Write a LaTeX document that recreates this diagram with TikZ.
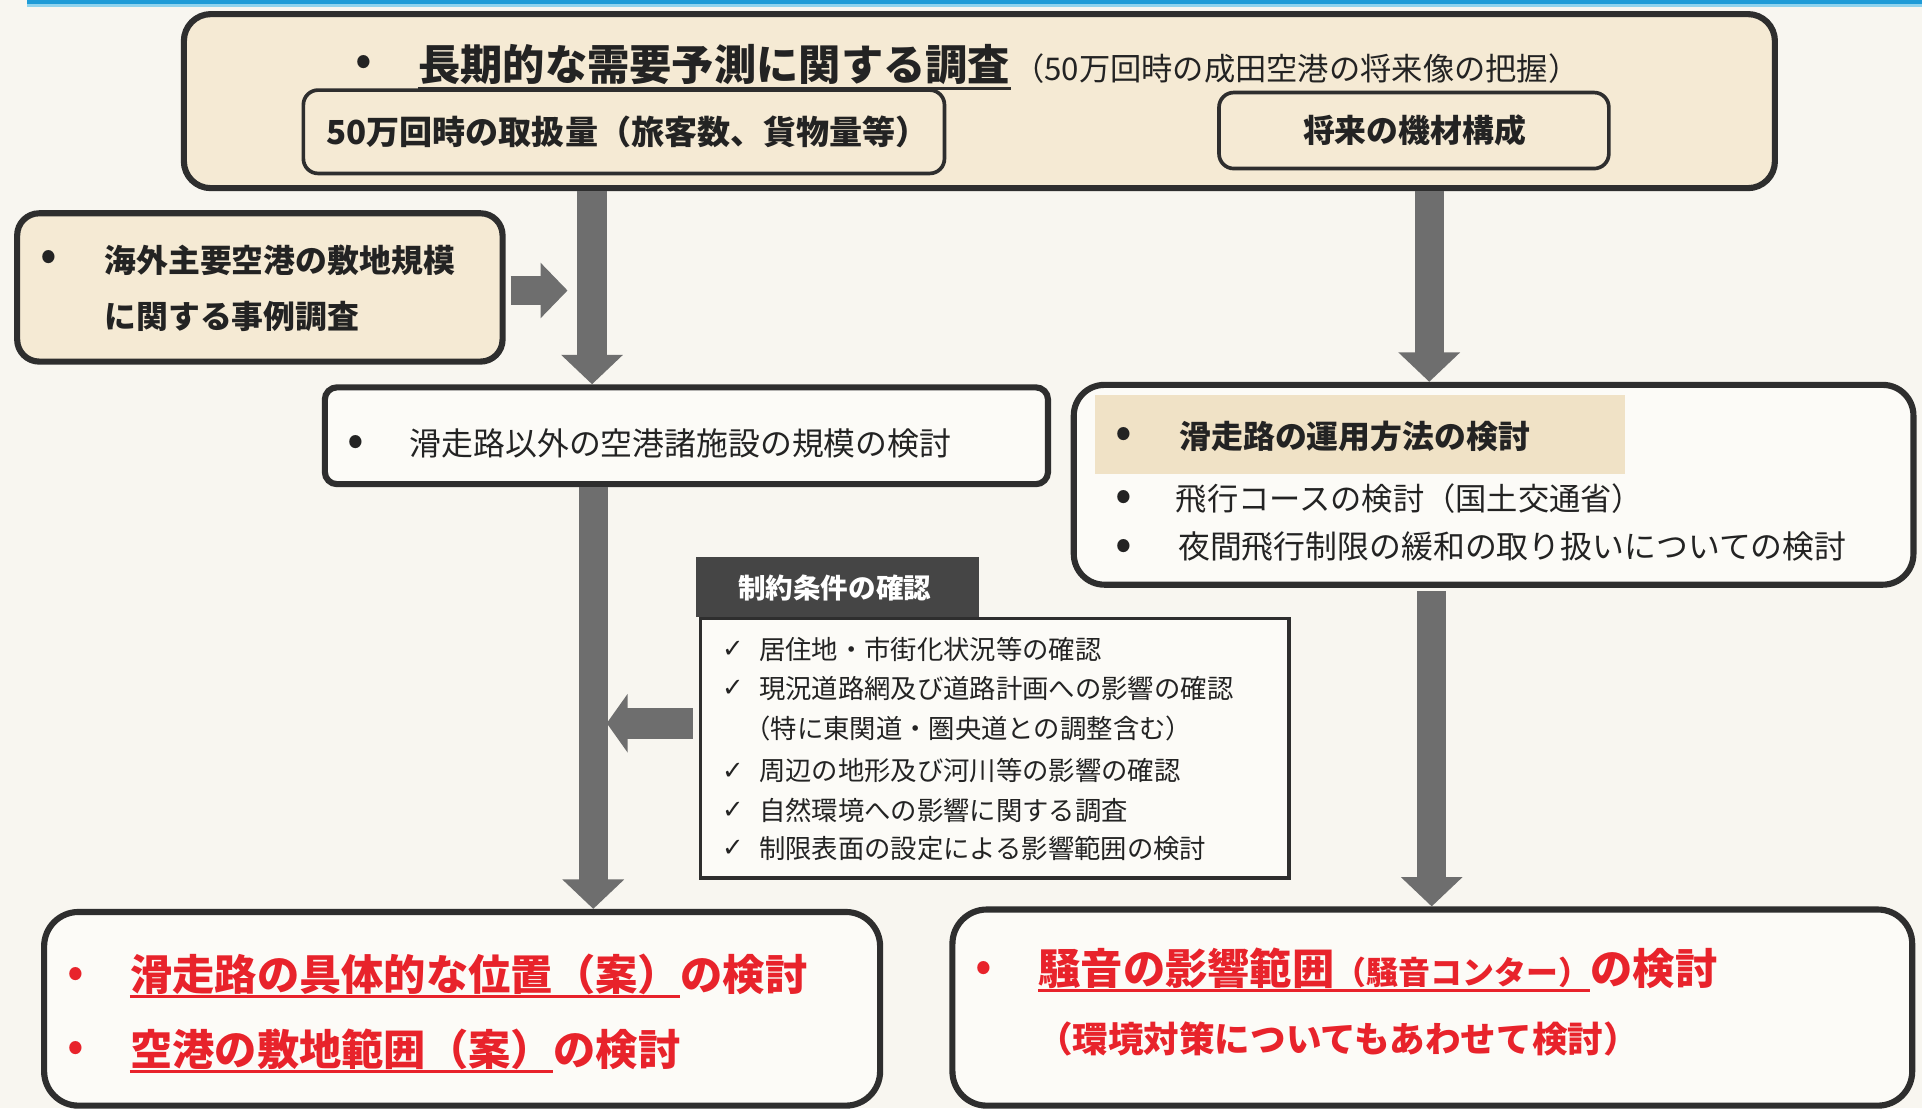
\documentclass[tikz,border=0pt]{standalone}
\usepackage{fontspec}
\setmainfont{Noto Sans CJK JP}
\newfontfamily\dejavu{DejaVu Sans}
\usetikzlibrary{arrows.meta}
\newcommand{\fsz}[1]{\fontsize{#1pt}{#1pt}\selectfont}
\definecolor{bg}{HTML}{F8F6F0}
\definecolor{cream}{HTML}{F5EAD4}
\definecolor{hl}{HTML}{F0E2C6}
\definecolor{edge}{HTML}{2E2E2E}
\definecolor{ink}{HTML}{232323}
\definecolor{arr}{HTML}{6E6E6E}
\definecolor{hdr}{HTML}{454545}
\definecolor{jred}{HTML}{E8232B}
\definecolor{bluebar}{HTML}{1E9BD7}
\definecolor{bluelight}{HTML}{8FD3EE}
\definecolor{paper}{HTML}{FCFBF7}
\begin{document}
\begin{tikzpicture}[x=1pt,y=-1pt,
  box/.style={draw=edge, line width=5pt, rectangle, inner sep=0pt},
  bigarrow/.style={draw=arr, line width=24pt, -{Triangle[width=49pt,length=24pt]}},
  smallarrow/.style={draw=arr, line width=23pt, -{Triangle[width=44pt,length=22pt]}},
  leftarrow/.style={draw=arr, line width=25pt, -{Triangle[width=47pt,length=17pt]}},
  jt/.style={anchor=west, inner sep=0pt, text=ink},
  jr/.style={anchor=west, inner sep=0pt, text=jred, font=\fsz{34.5}\bfseries},
  dot/.style={anchor=center, inner sep=0pt, text=ink, font=\fsz{40}},
  rdot/.style={anchor=center, inner sep=0pt, text=jred, font=\fsz{40}},
  chk/.style={anchor=west, inner sep=0pt, text=ink, font=\dejavu\bfseries\fsz{21}},
  uline/.style={line width=2pt},
]
\useasboundingbox (0,0) rectangle (1568,904);
\fill[bg] (0,0) rectangle (1568,904);
\fill[bluebar] (22,0) rectangle (1568,3.5);
\fill[bluelight] (22,3.5) rectangle (1568,5.5);

% ---------- boxes ----------
\node[box, fill=cream, rounded corners=22pt, minimum width=1298pt, minimum height=142pt] (top) at (799,82.5) {};
\node[box, line width=3pt, fill=cream, rounded corners=12pt, minimum width=523pt, minimum height=68pt] (q1) at (509,107.5) {};
\node[box, line width=3pt, fill=cream, rounded corners=12pt, minimum width=318pt, minimum height=62pt] (q2) at (1153.5,106.5) {};
\node[box, fill=cream, rounded corners=18pt, minimum width=396pt, minimum height=121pt] (lbox) at (212,234.5) {};
\node[box, fill=paper, rounded corners=10pt, minimum width=590pt, minimum height=79pt] (mbox) at (560,355.5) {};
\node[box, fill=paper, rounded corners=25pt, minimum width=685pt, minimum height=163pt] (rbox) at (1218.5,395.5) {};
\node[fill=hl, inner sep=0pt, minimum width=433pt, minimum height=65pt] (hl) at (1109.5,354.5) {};
\node[draw=edge, line width=3pt, fill=paper, inner sep=0pt, minimum width=480pt, minimum height=212pt] (cbody) at (811.5,610.5) {};
\node[fill=hdr, inner sep=0pt, minimum width=231pt, minimum height=49pt] (chead) at (683.5,478.5) {};
\node[box, fill=paper, rounded corners=28pt, minimum width=682pt, minimum height=158pt] (bl) at (377,823) {};
\node[box, fill=paper, rounded corners=28pt, minimum width=783pt, minimum height=160pt] (br) at (1168.5,822) {};

% ---------- connectors ----------
\coordinate (xl) at (483,0);
\coordinate (xr) at (1166,0);
\coordinate (xl2) at (484,0);
\coordinate (xr2) at (1168,0);
\coordinate (a5end) at (463,237);
\coordinate (a6end) at (495,590);
\draw[bigarrow] (top.south -| xl) -- (mbox.north -| xl);
\draw[bigarrow] (top.south -| xr) -- (rbox.north -| xr);
\draw[bigarrow] (mbox.south -| xl2) -- (bl.north -| xl2);
\draw[bigarrow, shorten <=3pt] (rbox.south -| xr2) -- (br.north -| xr2);
\draw[smallarrow, shorten <=4pt] (lbox.east |- a5end) -- (a5end);
\draw[leftarrow, shorten <=5pt] (cbody.west |- a6end) -- (a6end);

% ---------- texts: top ----------
\node[dot] (t0) at (297,54) {•};
\node[jt, font=\fsz{34.5}\bfseries] (t1) at (341,53) {長期的な需要予測に関する調査};
\draw[uline, edge, line width=2.4pt] ([yshift=-6pt]t1.base west) -- ([yshift=-6pt]t1.base east);
\node[jt, font=\fsz{25.5}, anchor=base west] (t2) at ([xshift=2pt]t1.base east) {（50万回時の成田空港の将来像の把握）};
\node[jt, font=\fsz{27}\bfseries, anchor=center] (q1t) at (512,108) {50万回時の取扱量（旅客数、貨物量等）};
\node[jt, font=\fsz{26}\bfseries, anchor=center] (q2t) at (1154,106) {将来の機材構成};

% ---------- left box ----------
\node[dot] (l0) at (40,213) {•};
\node[jt, font=\fsz{26}\bfseries] (l1) at (85,212) {海外主要空港の敷地規模};
\node[jt, font=\fsz{26}\bfseries] (l2) at (85,258) {に関する事例調査};

% ---------- middle box ----------
\node[dot] (m0) at (290,364) {•};
\node[jt, font=\fsz{26}] (m1) at (334,362) {滑走路以外の空港諸施設の規模の検討};

% ---------- right box ----------
\node[dot] (r0) at (917,357) {•};
\node[jt, font=\fsz{26}\bfseries] (r1) at (962,356) {滑走路の運用方法の検討};
\node[dot] (r2d) at (917,409) {•};
\node[jt, font=\fsz{25.5}] (r2) at (959,407) {飛行コースの検討（国土交通省）};
\node[dot] (r3d) at (917,449) {•};
\node[jt, font=\fsz{26}] (r3) at (961,446) {夜間飛行制限の緩和の取り扱いについての検討};

% ---------- constraints ----------
\node[jt, text=white, font=\fsz{22.5}\bfseries] (ch) at (602,480) {制約条件の確認};
\node[chk] (k1) at (589,530) {✓};
\node[jt, font=\fsz{21.5}] (c1) at (619,530) {居住地・市街化状況等の確認};
\node[chk] (k2) at (589,562) {✓};
\node[jt, font=\fsz{21.5}] (c2) at (619,562) {現況道路網及び道路計画への影響の確認};
\node[jt, font=\fsz{21.5}] (c3) at (607,594) {（特に東関道・圏央道との調整含む）};
\node[chk] (k4) at (589,629) {✓};
\node[jt, font=\fsz{21.5}] (c4) at (619,629) {周辺の地形及び河川等の影響の確認};
\node[chk] (k5) at (589,661) {✓};
\node[jt, font=\fsz{21.5}] (c5) at (619,661) {自然環境への影響に関する調査};
\node[chk] (k6) at (589,692) {✓};
\node[jt, font=\fsz{21.5}] (c6) at (619,692) {制限表面の設定による影響範囲の検討};

% ---------- bottom left ----------
\node[rdot] (b0) at (62,798) {•};
\node[jr] (b1a) at (106,795) {滑走路の具体的な位置（案）};
\node[jr, anchor=base west] (b1b) at (b1a.base east) {の検討};
\draw[uline, jred] ([yshift=-5pt]b1a.base west) -- ([yshift=-5pt]b1a.base east);
\node[rdot] (b2d) at (62,858) {•};
\node[jr] (b2a) at (106,856) {空港の敷地範囲（案）};
\node[jr, anchor=base west] (b2b) at (b2a.base east) {の検討};
\draw[uline, jred] ([yshift=-5pt]b2a.base west) -- ([yshift=-5pt]b2a.base east);

% ---------- bottom right ----------
\node[rdot] (n0) at (803,793) {•};
\node[jr] (n1a) at (847,790) {騒音の影響範囲};
\node[jr, anchor=base west, font=\fsz{26}\bfseries] (n1b) at (n1a.base east) {（騒音コンター）};
\node[jr, anchor=base west] (n1c) at (n1b.base east) {の検討};
\draw[uline, jred] ([yshift=-5pt]n1a.base west) -- ([yshift=-5pt]n1b.base east);
\node[jr, font=\fsz{29}\bfseries] (n2) at (846,848) {（環境対策についてもあわせて検討）};
\end{tikzpicture}
\end{document}
